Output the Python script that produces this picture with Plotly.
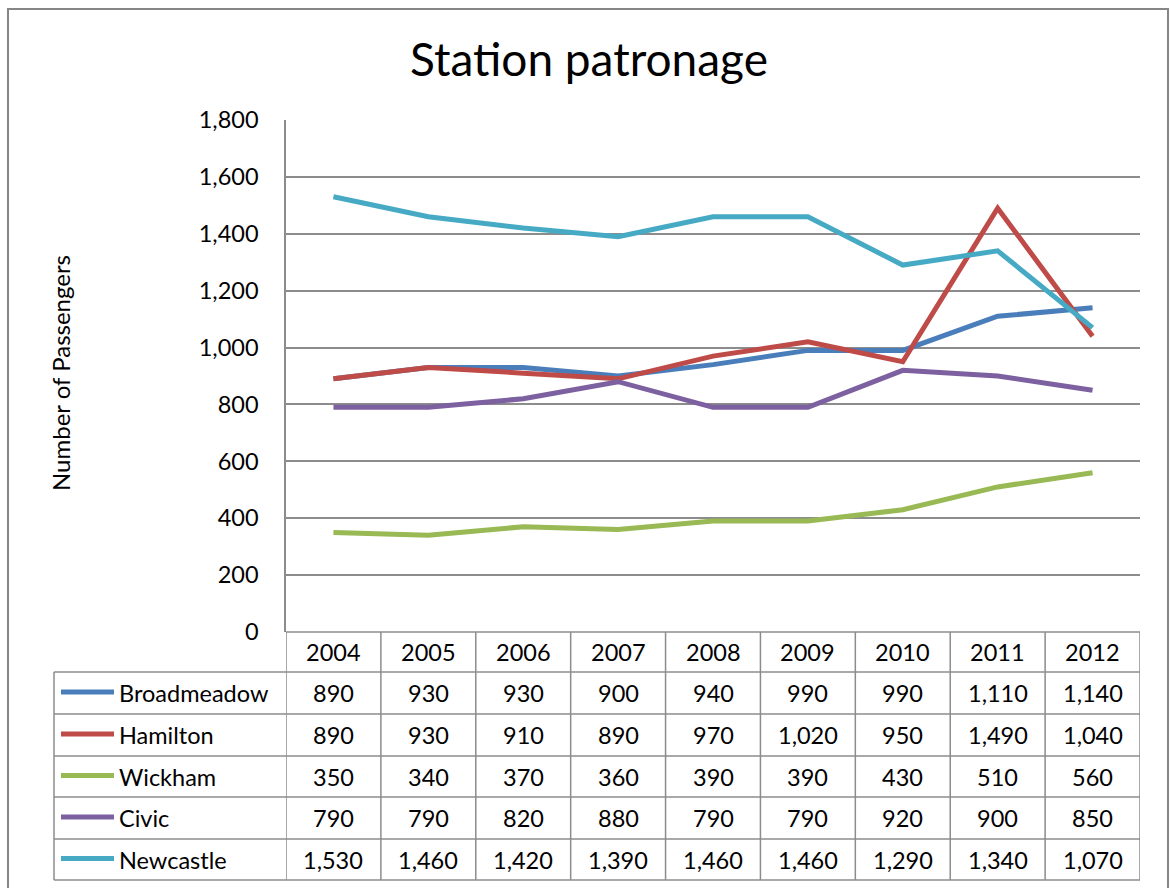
import plotly.graph_objects as go

years = ["2004", "2005", "2006", "2007", "2008", "2009", "2010", "2011", "2012"]
series_names = ["Broadmeadow", "Hamilton", "Wickham", "Civic", "Newcastle"]
broadmeadow = [890, 930, 930, 900, 940, 990, 990, 1110, 1140]
hamilton = [890, 930, 910, 890, 970, 1020, 950, 1490, 1040]
wickham = [350, 340, 370, 360, 390, 390, 430, 510, 560]
civic = [790, 790, 820, 880, 790, 790, 920, 900, 850]
newcastle = [1530, 1460, 1420, 1390, 1460, 1460, 1290, 1340, 1070]
colors = ["#4A7EBB", "#BE4B48", "#98B954", "#7D60A0", "#46AAC5"]
y_ticks = [0, 200, 400, 600, 800, 1000, 1200, 1400, 1600, 1800]

series_values = [broadmeadow, hamilton, wickham, civic, newcastle]

W, H = 1170, 888
FONT = "Lato"
GRID = "#8C8C8C"
FS = 23.5

def px(x):
    return x / W

def py(y):
    return 1 - y / H

# plot area pixel box
PL, PR, PT, PB = 286, 1140, 120, 632
TL = 54            # table left edge
row_lines = [632, 672, 714, 756, 797, 839, 880]

fig = go.Figure()
for name, vals, col in zip(series_names, series_values, colors):
    fig.add_trace(go.Scatter(
        x=list(range(len(years))), y=vals, name=name, mode="lines",
        line=dict(color=col, width=5), showlegend=False))

shapes = []
annotations = []

# outer chart border
shapes.append(dict(type="rect", xref="paper", yref="paper",
                   x0=px(8), x1=px(1168), y0=py(900), y1=py(9),
                   line=dict(color="#868686", width=2)))

# table horizontal lines
for i, ly in enumerate(row_lines):
    x0 = PL if i == 0 else TL
    shapes.append(dict(type="line", xref="paper", yref="paper",
                       x0=px(x0), x1=px(PR), y0=py(ly), y1=py(ly),
                       line=dict(color=GRID, width=1.5)))
# table vertical lines: column boundaries in data coords
for k in range(len(years) + 1):
    shapes.append(dict(type="line", xref="x", yref="paper",
                       x0=k - 0.5, x1=k - 0.5, y0=py(row_lines[0]), y1=py(row_lines[-1]),
                       line=dict(color=GRID, width=1.5)))
shapes.append(dict(type="line", xref="paper", yref="paper",
                   x0=px(TL), x1=px(TL), y0=py(row_lines[1]), y1=py(row_lines[-1]),
                   line=dict(color=GRID, width=1.5)))

# header years
hy = (row_lines[0] + row_lines[1]) / 2
for k, yr in enumerate(years):
    annotations.append(dict(x=k, y=py(hy), xref="x", yref="paper", text=yr,
                            showarrow=False, xanchor="center", yanchor="middle",
                            font=dict(family=FONT, size=FS, color="#000")))

# rows
for r, (name, vals, col) in enumerate(zip(series_names, series_values, colors)):
    cy = (row_lines[r + 1] + row_lines[r + 2]) / 2
    shapes.append(dict(type="line", xref="paper", yref="paper",
                       x0=px(61), x1=px(114), y0=py(cy - 1), y1=py(cy - 1),
                       line=dict(color=col, width=5)))
    annotations.append(dict(x=px(117), y=py(cy), xref="paper", yref="paper", text=name,
                            showarrow=False, xanchor="left", yanchor="middle",
                            font=dict(family=FONT, size=FS, color="#000")))
    for k, v in enumerate(vals):
        annotations.append(dict(x=k, y=py(cy), xref="x", yref="paper", text=f"{v:,}",
                                showarrow=False, xanchor="center", yanchor="middle",
                                font=dict(family=FONT, size=FS, color="#000")))

# y axis title
annotations.append(dict(x=px(60), y=py(373), xref="paper", yref="paper",
                        text="Number of Passengers", textangle=-90, showarrow=False,
                        xanchor="center", yanchor="middle",
                        font=dict(family=FONT, size=24, color="#000")))
# title
annotations.append(dict(x=px(589), y=py(58), xref="paper", yref="paper",
                        text="Station patronage", showarrow=False,
                        xanchor="center", yanchor="middle",
                        font=dict(family=FONT, size=46, color="#000")))

fig.update_layout(
    width=W, height=H,
    margin=dict(l=0, r=0, t=0, b=0, pad=0),
    paper_bgcolor="white", plot_bgcolor="white",
    shapes=shapes, annotations=annotations,
    xaxis=dict(domain=[px(PL), px(PR)], range=[-0.5, len(years) - 0.5],
               showticklabels=False, showgrid=False, zeroline=False,
               showline=False, ticks="", automargin=False),
    yaxis=dict(domain=[py(PB), py(PT)], range=[0, 1800], tickvals=y_ticks,
               tickformat=",", showgrid=True, gridcolor=GRID, gridwidth=1.5,
               zeroline=False, showline=True, linecolor=GRID, linewidth=1.5,
               ticks="", ticklabelstandoff=21, automargin=False,
               tickfont=dict(family=FONT, size=FS, color="#000")),
)

fig.write_html("out.html")
